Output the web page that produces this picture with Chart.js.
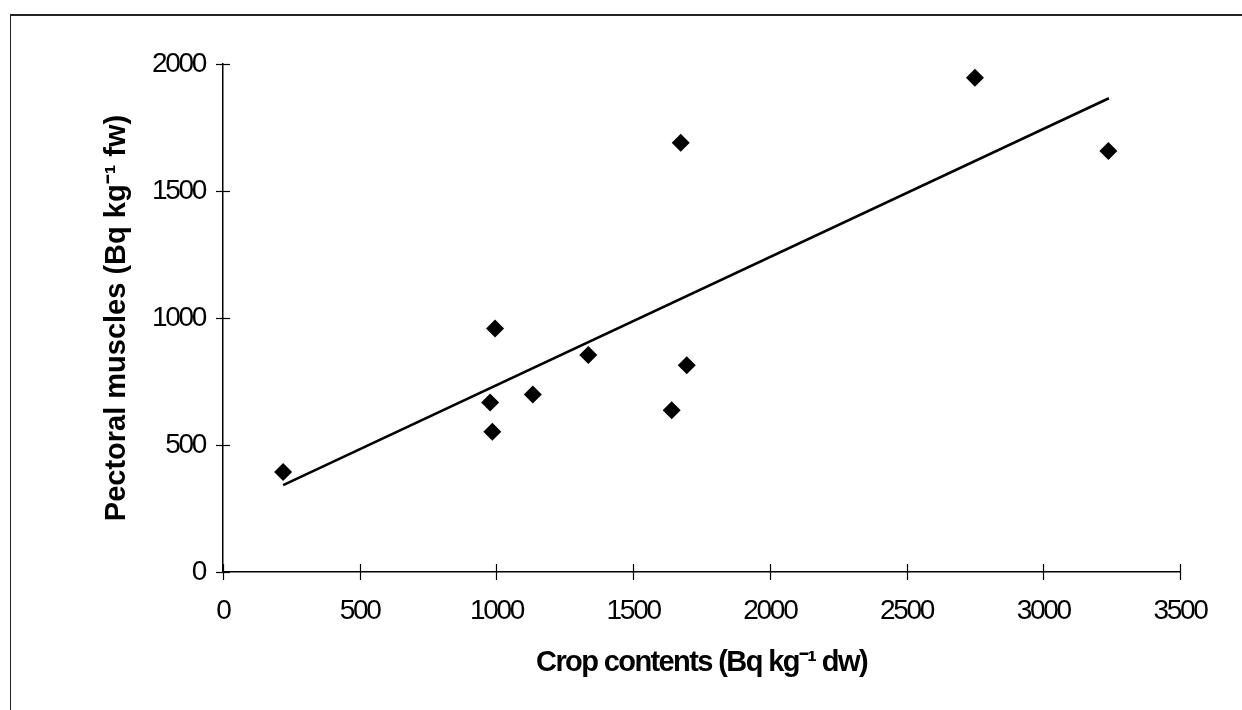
<!DOCTYPE html>
<html>
<head>
<meta charset="utf-8">
<script src="https://cdn.jsdelivr.net/npm/chart.js@4.4.1/dist/chart.umd.min.js"></script>
<style>
  html, body { margin: 0; padding: 0; background: #fff; }
  #wrap { position: relative; width: 1242px; height: 710px; overflow: hidden; }
  #frame { position: absolute; left: 10px; top: 14px; width: 1300px; height: 800px;
           border-left: 1px solid #222; border-top: 2px solid #222; pointer-events: none; }
  canvas { display: block; }
</style>
</head>
<body>
<div id="wrap">
  <canvas id="c" width="1242" height="710"></canvas>
  <div id="frame"></div>
</div>
<script>
// Scatter data
const cropContents = [220, 977, 985, 995, 1133, 1336, 1641, 1674, 1696, 2750, 3238];
const pectoralMuscles = [394, 667, 552, 959, 699, 854, 637, 1690, 814, 1946, 1657];
// Trend line end points
const trendX = [220, 3240];
const trendY = [342, 1865];
// Axis ticks
const xTickValues = [0, 500, 1000, 1500, 2000, 2500, 3000, 3500];
const yTickValues = [0, 500, 1000, 1500, 2000];
const xTitle = 'Crop contents (Bq kg\u207B\u00B9 dw)';
const yTitle = 'Pectoral muscles (Bq kg\u207B\u00B9 fw)';

const fam = "'Liberation Sans', Arial, sans-serif";

// tighten text spacing per scale part (labels / titles)
function patchSpacing(s, labelSp, titleSp) {
  if (s._spPatched) return;
  s._spPatched = true;
  const dl = s.drawLabels.bind(s);
  const dt = s.drawTitle.bind(s);
  s.drawLabels = function (ca) { const c = s.ctx; const o = c.letterSpacing; c.letterSpacing = labelSp; dl(ca); c.letterSpacing = o || '0px'; };
  s.drawTitle = function (ca) { const c = s.ctx; const o = c.letterSpacing; c.letterSpacing = titleSp; dt(ca); c.letterSpacing = o || '0px'; };
}

const crossTicks = {
  id: 'crossTicks',
  afterDraw(chart) {
    const ctx = chart.ctx;
    ctx.save();
    ctx.strokeStyle = '#000';
    ctx.lineWidth = 1.2;
    const xs = chart.scales.x, ys = chart.scales.y;
    const yAxisX = xs.getPixelForValue(0);
    const xAxisY = ys.getPixelForValue(0);
    xs.ticks.forEach(t => {
      const px = Math.round(xs.getPixelForValue(t.value)) + 0.5;
      ctx.beginPath(); ctx.moveTo(px, xAxisY - 8); ctx.lineTo(px, xAxisY + 8); ctx.stroke();
    });
    ys.ticks.forEach(t => {
      const py = Math.round(ys.getPixelForValue(t.value)) + 0.5;
      ctx.beginPath(); ctx.moveTo(yAxisX - 7, py); ctx.lineTo(yAxisX + 7, py); ctx.stroke();
    });
    ctx.restore();
  }
};

new Chart(document.getElementById('c'), {
  type: 'scatter',
  data: {
    datasets: [
      {
        label: 'Data',
        data: cropContents.map((x, i) => ({ x: x, y: pectoralMuscles[i] })),
        pointStyle: 'rectRot',
        pointRadius: 9,
        backgroundColor: '#000',
        borderColor: '#000',
        borderWidth: 0,
        showLine: false
      },
      {
        label: 'Trend',
        type: 'line',
        data: trendX.map((x, i) => ({ x: x, y: trendY[i] })),
        borderColor: '#000',
        borderWidth: 2.6,
        pointRadius: 0,
        fill: false
      }
    ]
  },
  options: {
    responsive: false,
    animation: false,
    events: [],
    layout: { padding: { left: 0, right: 62, top: 64, bottom: 0 } },
    plugins: { legend: { display: false }, tooltip: { enabled: false } },
    scales: {
      x: {
        type: 'linear',
        min: 0, max: 3500,
        afterBuildTicks: s => { s.ticks = xTickValues.map(v => ({ value: v })); },
        afterFit: s => { s.height = 138; patchSpacing(s, '-2.3px', '-1.6px'); },
        grid: { display: false, drawTicks: false },
        border: { display: true, color: '#000', width: 1.5 },
        ticks: { color: '#000', padding: 22, maxRotation: 0, font: { family: fam, size: 28 },
                 callback: v => String(v) },
        title: { display: true, text: xTitle, color: '#000', padding: { top: 30, bottom: 30 },
                 font: { family: fam, size: 29, weight: 'bold' } }
      },
      y: {
        type: 'linear',
        min: 0, max: 2000,
        afterBuildTicks: s => { s.ticks = yTickValues.map(v => ({ value: v })); },
        afterFit: s => { s.width = 223; patchSpacing(s, '-2.3px', '0px'); },
        grid: { display: false, drawTicks: false },
        border: { display: true, color: '#000', width: 1.5 },
        ticks: { color: '#000', padding: 18, font: { family: fam, size: 28 },
                 callback: v => String(v) },
        title: { display: true, text: yTitle, color: '#000', padding: { top: 100, bottom: 100 },
                 font: { family: fam, size: 29, weight: 'bold' } }
      }
    }
  },
  plugins: [crossTicks]
});
</script>
</body>
</html>
